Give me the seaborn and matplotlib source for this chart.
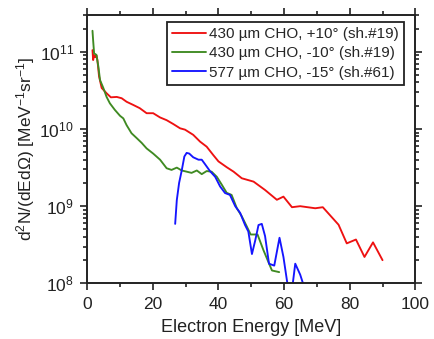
import numpy as np
import pandas as pd
import matplotlib
matplotlib.use("Agg")
import matplotlib.pyplot as plt
import seaborn as sns
from matplotlib.ticker import MultipleLocator, LogLocator

labels = ["430 µm CHO, +10° (sh.#19)", "430 µm CHO, -10° (sh.#19)", "577 µm CHO, -15° (sh.#61)"]
colors = ["#ee1111", "#3f8a22", "#1515ff"]

x_red = [1.6, 1.8, 2.1, 2.5, 2.8, 3.1, 3.6, 4.4, 5.9, 7.2, 9.0, 10.5, 12.0, 14.0, 16.0, 18.1,
         20.1, 22.2, 24.2, 26.2, 28.3, 29.8, 32.3, 34.4, 36.4, 38.4, 40.0, 42.5, 44.6, 47.1,
         50.7, 54.2, 57.8, 59.8, 62.4, 64.9, 69.5, 71.8, 76.6, 79.1, 81.9, 84.5, 87.1, 90.0]
y_red = [1.05e11, 0.78e11, 0.9e11, 0.85e11, 0.9e11, 0.78e11, 4.8e10, 3.4e10, 2.9e10, 2.57e10,
         2.6e10, 2.5e10, 2.25e10, 2.05e10, 1.86e10, 1.6e10, 1.6e10, 1.41e10, 1.3e10, 1.16e10,
         1.02e10, 9.8e9, 8.4e9, 6.85e9, 5.9e9, 4.6e9, 3.8e9, 3.2e9, 2.8e9, 2.3e9, 2.08e9,
         1.62e9, 1.21e9, 1.33e9, 9.7e8, 1.0e9, 9.4e8, 9.7e8, 5.75e8, 3.3e8, 3.7e8, 2.2e8,
         3.4e8, 2.0e8]

x_green = [1.6, 1.8, 2.1, 2.5, 2.8, 3.4, 3.9, 4.9, 5.9, 6.9, 8.4, 10.0, 11.0, 12.0, 13.5, 15.1,
           16.6, 18.1, 20.1, 22.2, 24.2, 25.7, 27.3, 28.8, 30.3, 31.8, 33.4, 34.9, 36.4, 37.9,
           39.5, 41.0, 42.5, 44.0, 45.6, 47.1, 48.6, 49.8, 51.9, 53.7, 55.2, 56.3, 58.5]
y_green = [1.87e11, 1.4e11, 9.5e10, 9.3e10, 9.1e10, 6.4e10, 4.3e10, 3.4e10, 2.6e10, 2.15e10,
           1.77e10, 1.48e10, 1.37e10, 1.12e10, 8.8e9, 7.6e9, 6.6e9, 5.6e9, 4.8e9, 4.0e9, 3.1e9,
           2.95e9, 3.16e9, 2.9e9, 2.8e9, 2.7e9, 2.9e9, 2.6e9, 2.85e9, 2.8e9, 2.4e9, 1.9e9,
           1.49e9, 1.4e9, 9.4e8, 7.4e8, 5.5e8, 4.3e8, 4.3e8, 2.7e8, 1.9e8, 1.47e8, 1.4e8]

x_blue = [26.8, 27.3, 28.0, 28.8, 29.6, 30.3, 31.1, 32.3, 33.9, 34.9, 35.9, 37.4, 39.0, 40.5,
          42.0, 43.5, 45.1, 46.6, 48.1, 49.1, 50.2, 51.2, 52.2, 53.2, 54.2, 55.4, 57.0, 58.6,
          59.8, 61.0, 62.0, 63.4, 64.9, 66.5]
y_blue = [5.9e8, 1.2e9, 2.0e9, 2.9e9, 4.4e9, 4.9e9, 4.8e9, 4.3e9, 4.0e9, 4.0e9, 3.5e9, 2.85e9,
          2.4e9, 1.8e9, 1.48e9, 1.4e9, 1.0e9, 8.2e8, 5.7e8, 4.7e8, 2.4e8, 3.6e8, 5.7e8, 5.9e8,
          4.1e8, 1.8e8, 1.7e8, 3.9e8, 2.2e8, 1.0e8, 6e7, 1.8e8, 1.3e8, 8e7]

x_ticks = [0, 20, 40, 60, 80, 100]

sns.set_style("ticks")
plt.rcParams["font.family"] = ["Liberation Sans", "DejaVu Sans"]
plt.rcParams["mathtext.fontset"] = "custom"
plt.rcParams["mathtext.rm"] = "Liberation Sans"
plt.rcParams["mathtext.it"] = "Liberation Sans:italic"
plt.rcParams["mathtext.bf"] = "Liberation Sans:bold"

df = pd.concat([
    pd.DataFrame({"E": x_red, "N": y_red, "s": labels[0]}),
    pd.DataFrame({"E": x_green, "N": y_green, "s": labels[1]}),
    pd.DataFrame({"E": x_blue, "N": y_blue, "s": labels[2]}),
], ignore_index=True)

fig = plt.figure(figsize=(4.34, 3.39), dpi=100)
ax = fig.add_axes([0.201, 0.164, 0.756, 0.792])
sns.lineplot(data=df, x="E", y="N", hue="s", palette=dict(zip(labels, colors)),
             estimator=None, sort=False, linewidth=1.35, ax=ax)
ax.set_yscale("log")
ax.set_xlim(0, 100)
ax.set_ylim(1e8, 3e11)
ax.set_xticks(x_ticks)
ax.xaxis.set_minor_locator(MultipleLocator(10))
ax.yaxis.set_major_locator(LogLocator(base=10, numticks=10))
ax.yaxis.set_minor_locator(LogLocator(base=10, subs=np.arange(2, 10), numticks=20))
ax.tick_params(which="both", direction="out", top=True, right=True, labelsize=12.5,
               width=1.2, colors="#222222", labelcolor="#222222")
ax.tick_params(which="major", length=5, pad=4.5)
ax.tick_params(which="minor", length=3)
for sp in ax.spines.values():
    sp.set_linewidth(1.4)
    sp.set_color("#222222")
ax.set_xlabel("Electron Energy [MeV]", fontsize=13, color="#222222", labelpad=5)
ax.set_ylabel(r"d$^2$N/(dEd$\Omega$) [MeV$^{-1}$sr$^{-1}$]", fontsize=12.5, color="#222222", labelpad=2)

leg = ax.legend(loc="upper right", bbox_to_anchor=(0.965, 0.975), fontsize=11,
                frameon=True, fancybox=False, edgecolor="#222222", handlelength=2.2,
                handletextpad=0.2, borderpad=0.35, labelspacing=0.35, borderaxespad=0)
leg.get_frame().set_linewidth(1.3)
leg.get_frame().set_alpha(1)

fig.savefig("out.png", dpi=100)
